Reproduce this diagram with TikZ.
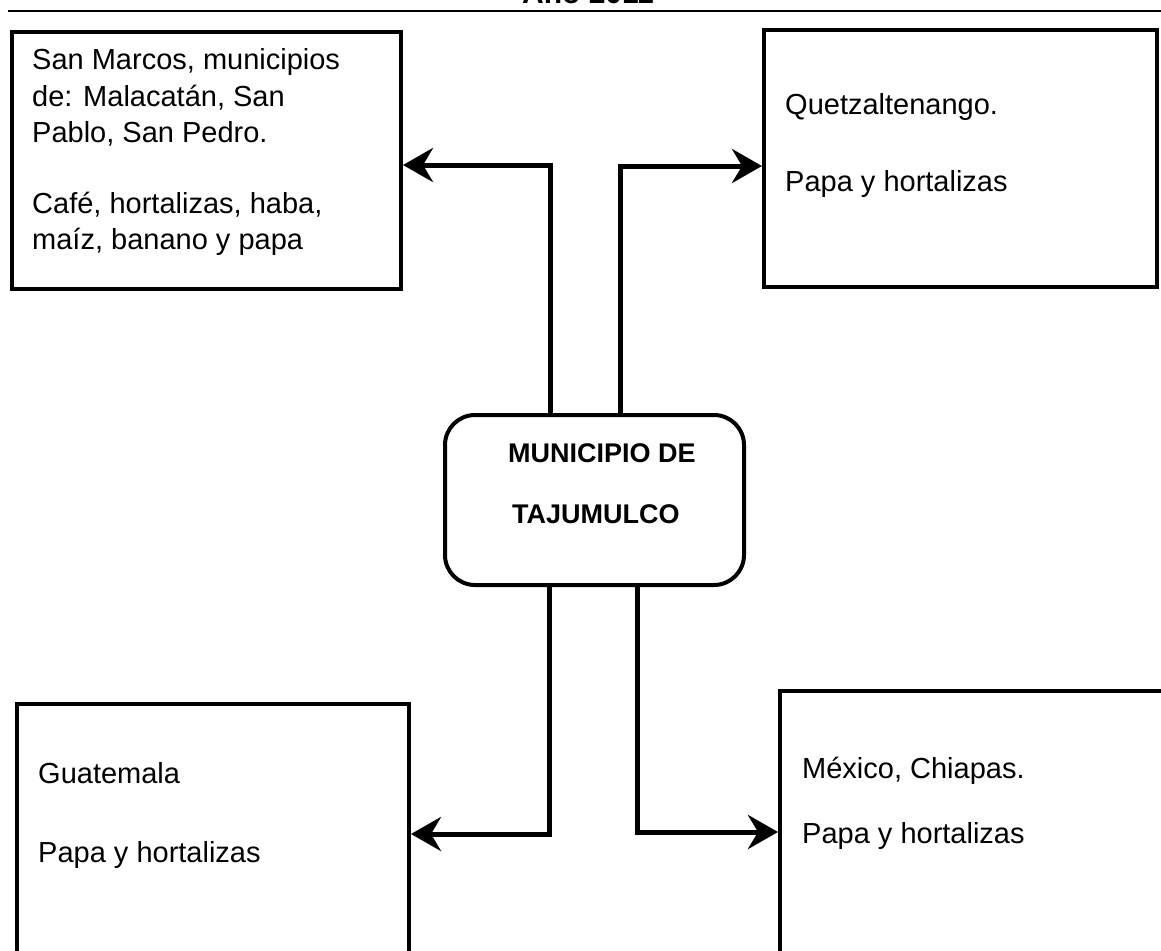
\documentclass[tikz,border=0pt]{standalone}
\usepackage{fontspec}
\setmainfont{Liberation Sans}
\usetikzlibrary{arrows.meta}
\begin{document}
\begin{tikzpicture}[x=1pt,y=-1pt,
  box/.style={draw, line width=4pt, rectangle, inner sep=0pt, anchor=north west},
  txt/.style={anchor=base west, inner sep=0pt, font=\fontsize{29}{37}\selectfont},
  btxt/.style={anchor=base west, inner sep=0pt, font=\fontsize{27}{33}\selectfont\bfseries},
  conn/.style={line width=5pt, -{Stealth[length=30pt,width=34pt,inset=10pt]}}]
\useasboundingbox (0,0) rectangle (1161,950);
\clip (0,0) rectangle (1161,950);
% cut-off title and rule
\node[anchor=base, inner sep=0pt, font=\fontsize{30}{36}\selectfont\bfseries] (title) at (588,4) {Año 2011};
\coordinate (ruleA) at (8,11);
\coordinate (ruleB) at (1161,11);
\draw[line width=1.5pt] (ruleA) -- (ruleB);
% boxes
\node[box, minimum width=389pt, minimum height=257pt] (sm) at (10,30) {};
\node[box, minimum width=393pt, minimum height=257pt] (qz) at (762,28) {};
\node[box, minimum width=392pt, minimum height=300pt] (gt) at (15,702) {};
\node[box, minimum width=450pt, minimum height=300pt] (mx) at (778,689) {};
\node[draw, line width=4pt, rounded corners=30pt, minimum width=299pt, minimum height=170pt, anchor=north west, inner sep=0pt] (mun) at (443,413) {};
% texts
\node[txt] (sm1) at (32,70) {San Marcos, municipios};
\node[txt] (sm2) at (32,106) {de: Malacatán, San};
\node[txt] (sm3) at (32,142) {Pablo, San Pedro.};
\node[txt] (sm4) at (32,213) {Café, hortalizas, haba,};
\node[txt] (sm5) at (32,249) {maíz, banano y papa};
\node[txt] (qz1) at (785,114) {Quetzaltenango.};
\node[txt] (qz2) at (785,191) {Papa y hortalizas};
\node[txt] (gt1) at (38,783) {Guatemala};
\node[txt] (gt2) at (38,862) {Papa y hortalizas};
\node[txt] (mx1) at (802,778) {México, Chiapas.};
\node[txt] (mx2) at (802,843) {Papa y hortalizas};
\node[btxt] (mun1) at (508,462) {MUNICIPIO DE};
\node[btxt] (mun2) at (512,523) {TAJUMULCO};
% connectors
\draw[conn] ([xshift=-44.5pt]mun.north) |- ([yshift=-4.5pt]sm.east);
\draw[conn] ([xshift=25.5pt]mun.north) |- ([yshift=-7.5pt]qz.west);
\draw[conn] ([xshift=-45.5pt]mun.south) |- ([yshift=-132pt]gt.north east);
\draw[conn] ([xshift=42.5pt]mun.south) |- ([yshift=-143pt]mx.north west);
\end{tikzpicture}
\end{document}
